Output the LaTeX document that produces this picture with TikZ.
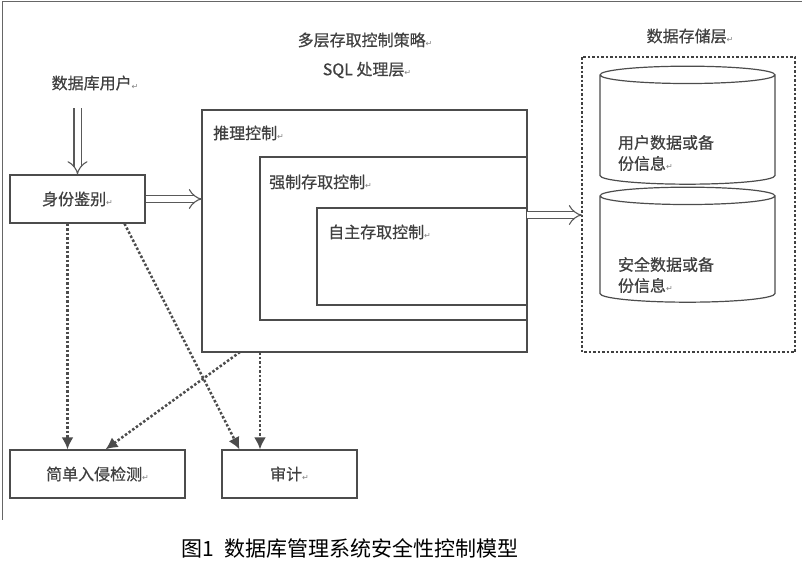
\documentclass[tikz,border=0pt]{standalone}
\usepackage{fontspec}
\usetikzlibrary{arrows.meta,shapes.geometric}
\newfontfamily\cjk[FakeBold=0.6]{Noto Sans CJK SC}
\newfontfamily\cjkcap{Noto Sans CJK SC}
\newfontfamily\symf{DejaVu Sans}
\newcommand{\ret}{{\symf\fontsize{8}{8}\selectfont\color{gray}↵}}

\begin{document}
\begin{tikzpicture}[x=1pt,y=-1pt,
  lbl/.style={font=\cjk\fontsize{16}{21}\selectfont, text=black!75, inner sep=1pt},
  box/.style={draw=black!70, line width=1.2pt, lbl},
  fat/.style={draw=black!65, double=white, double distance=6pt, line width=1.1pt,
    -{Implies[length=10pt]}},
  dots/.style={draw=black!70, line width=2.5pt, dotted, -{Latex[length=12pt,width=12pt]}},
  drum/.style={cylinder, shape border rotate=90, draw=black!70, line width=1.2pt,
    aspect=2.6, minimum width=175}]
  \useasboundingbox (0,0) rectangle (802,571);
  \draw[black!60, line width=1pt] (802,1) -- (2,1) -- (2,520);
  % titles
  \node[lbl] (tuser) at (95,83) {数据库用户\ret};
  \node[lbl] (tmulti) at (365,40) {多层存取控制策略\ret};
  \node[lbl] (tsql) at (367,70) {SQL 处理层\ret};
  \node[lbl] (tstore) at (690,36) {数据存储层\ret};
  % boxes
  \node[box, minimum width=135, minimum height=48] (auth) at (77.5,199) {身份鉴别\ret};
  \node[box, minimum width=175, minimum height=48] (ids) at (97.5,474) {简单入侵检测\ret};
  \node[box, minimum width=135, minimum height=48] (audit) at (289.5,474) {审计\ret};
  \draw[box] (202,110) rectangle (527,352);
  \draw[box] (527,157) -- (260,157) -- (260,320) -- (527,320);
  \draw[box] (527,208) -- (317,208) -- (317,305) -- (527,305);
  \node[lbl, anchor=west] (infer) at (212,133) {推理控制\ret};
  \node[lbl, anchor=west] (mac) at (268,182) {强制存取控制\ret};
  \node[lbl, anchor=west] (dac) at (327,232) {自主存取控制\ret};
  \coordinate (userA) at (77.5,108);
  \coordinate (sqlL) at (202,199);
  \coordinate (sqlR) at (527,215);
  \coordinate (sqlB1) at (240,352);
  \coordinate (sqlB2) at (260,352);
  % storage
  \draw[draw=black!75, line width=2.5pt, dotted] (582,57) rectangle (795,352);
  \coordinate (storeL) at (582,215);
  \node[drum, minimum height=118] (cyl1) at (687.5,131) {};
  \node[drum, minimum height=115] (cyl2) at (687.5,250.5) {};
  \node[lbl, text width=150, align=left] at (693,153) {用户数据或备\\份信息\ret};
  \node[lbl, text width=150, align=left] at (693,275) {安全数据或备\\份信息\ret};
  % connectors
  \draw[fat] (userA) -- (auth.north);
  \draw[fat] (auth.east) -- (sqlL);
  \draw[fat] (sqlR) -- (storeL);
  \draw[dots] ([xshift=-10]auth.south) -- ([xshift=-30]ids.north);
  \draw[dots] ([xshift=47]auth.south) -- ([xshift=-50]audit.north);
  \draw[dots] (sqlB1) -- ([xshift=8]ids.north);
  \draw[dots] (sqlB2) -- (sqlB2 |- audit.north);
  % caption
  \node[font=\cjkcap\fontsize{21}{25}\selectfont] (cap) at (350,548) {图1\ \ 数据库管理系统安全性控制模型};
\end{tikzpicture}
\end{document}
